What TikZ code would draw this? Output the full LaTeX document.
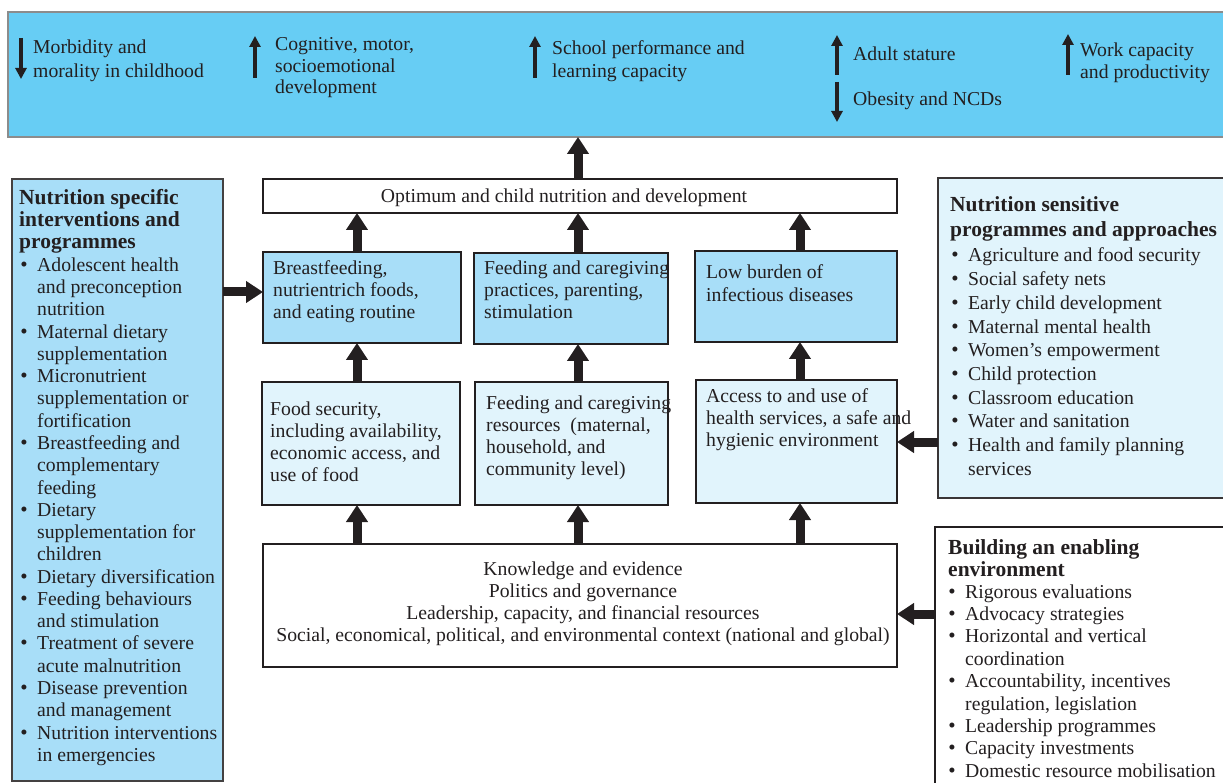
\documentclass[tikz,border=0pt]{standalone}
\usepackage{fontspec}
\setmainfont{Liberation Serif}
\usetikzlibrary{arrows.meta}
\definecolor{banner}{HTML}{67CDF4}
\definecolor{bannerline}{HTML}{8C8C8C}
\definecolor{midblue}{HTML}{A8DEF8}
\definecolor{pale}{HTML}{E1F4FC}
\definecolor{ink}{HTML}{231F20}
\tikzset{
  txt/.style={anchor=base west, inner sep=0pt, font=\fontsize{19.7}{22}\selectfont, text=ink},
  ctxt/.style={txt, anchor=base},
  hd/.style={txt, font=\fontsize{21.5}{22}\selectfont\bfseries},
  bul/.style={anchor=base, inner sep=0pt, font=\fontsize{21}{22}\selectfont, text=ink},
  frame/.style={rectangle, inner sep=0pt, outer sep=0pt, line width=1.4pt},
  whitebox/.style={frame, draw=ink, fill=white},
  bluebox/.style={frame, draw=ink, fill=midblue},
  palebox/.style={frame, draw=ink, fill=pale},
  bigarrow/.style={draw=ink, line width=9pt, -{Triangle[width=21pt,length=17pt]}},
  smallarrow/.style={draw=ink, line width=4pt, -{Triangle[width=11pt,length=11pt]}},
}
\newcounter{tn}
\newcommand\tln[3]{\stepcounter{tn}\node[txt] (t\arabic{tn}) at (#1,#2) {#3};}
\newcommand\ctln[3]{\stepcounter{tn}\node[ctxt] (t\arabic{tn}) at (#1,#2) {#3};}
\newcommand\hdln[3]{\stepcounter{tn}\node[hd] (t\arabic{tn}) at (#1,#2) {#3};}
\newcommand\bln[3]{\stepcounter{tn}\node[bul] (u\arabic{tn}) at ({#1-13},#2) {\textbullet};\node[txt] (t\arabic{tn}) at (#1,#2) {#3};}
\begin{document}
\begin{tikzpicture}[x=1pt,y=-1pt]
\useasboundingbox (0,0) rectangle (1223,783);
% ---------- banner ----------
\node[frame, draw=bannerline, line width=1.8pt, fill=banner, minimum width=1232pt, minimum height=125pt] (Ban) at (624,74.5) {};
\coordinate (a1s) at (21,38);   \coordinate (a1e) at (21,79);
\coordinate (a2s) at (255,78);  \coordinate (a2e) at (255,36);
\coordinate (a3s) at (535,78);  \coordinate (a3e) at (535,36);
\coordinate (a4s) at (837,75);  \coordinate (a4e) at (837,35);
\coordinate (a5s) at (837,82);  \coordinate (a5e) at (837,122);
\coordinate (a6s) at (1068,75); \coordinate (a6e) at (1068,34);
\foreach \i in {1,...,6} {\draw[smallarrow] (a\i s) -- (a\i e);}
\tln{33}{54}{Morbidity and}
\tln{33}{78}{morality in childhood}
\tln{275}{51}{Cognitive, motor,}
\tln{275}{72.5}{socioemotional}
\tln{275}{94}{development}
\tln{552}{55}{School performance and}
\tln{552}{78}{learning capacity}
\tln{853}{61}{Adult stature}
\tln{853}{106}{Obesity and NCDs}
\tln{1080}{57}{Work capacity}
\tln{1080}{79}{and productivity}
% ---------- central boxes ----------
\node[whitebox, minimum width=634pt, minimum height=34pt] (Opt) at (580,196) {};
\node[bluebox, minimum width=198pt, minimum height=91pt] (B1) at (362,297.5) {};
\node[bluebox, minimum width=194pt, minimum height=91pt] (B2) at (571,298.5) {};
\node[bluebox, minimum width=202pt, minimum height=91pt] (B3) at (796,296.5) {};
\node[palebox, minimum width=198pt, minimum height=123pt] (C1) at (361,443.5) {};
\node[palebox, minimum width=193pt, minimum height=123pt] (C2) at (571.5,443.5) {};
\node[palebox, minimum width=201pt, minimum height=123pt] (C3) at (796.5,441.5) {};
\node[whitebox, minimum width=634pt, minimum height=123pt] (D) at (580,605.5) {};
% ---------- side panels ----------
\node[frame, draw=ink!85, fill=midblue, minimum width=211pt, minimum height=602pt] (LP) at (117.5,480) {};
\node[frame, draw=ink!90, fill=pale, minimum width=302pt, minimum height=320pt] (RP1) at (1089,338) {};
\node[frame, draw=ink, fill=white, minimum width=305pt, minimum height=273pt] (RP2) at (1087.5,663.5) {};
% ---------- arrows ----------
\coordinate (col1) at (357,0);
\coordinate (col2) at (578,0);
\coordinate (col3) at (800,0);
\coordinate (ay1) at (0,292);
\coordinate (ay2) at (0,442);
\coordinate (ay3) at (0,614);
\draw[bigarrow] (Opt.north -| col2) -- (Ban.south -| col2);
\draw[bigarrow] (B1.north -| col1) -- (Opt.south -| col1);
\draw[bigarrow] (B2.north -| col2) -- (Opt.south -| col2);
\draw[bigarrow] (B3.north -| col3) -- (Opt.south -| col3);
\draw[bigarrow] (C1.north -| col1) -- (B1.south -| col1);
\draw[bigarrow] (C2.north -| col2) -- (B2.south -| col2);
\draw[bigarrow] (C3.north -| col3) -- (B3.south -| col3);
\draw[bigarrow] (D.north -| col1) -- (C1.south -| col1);
\draw[bigarrow] (D.north -| col2) -- (C2.south -| col2);
\draw[bigarrow] (D.north -| col3) -- (C3.south -| col3);
\draw[bigarrow] (LP.east |- ay1) -- (B1.west |- ay1);
\draw[bigarrow] (RP1.west |- ay2) -- (C3.east |- ay2);
\draw[bigarrow] (RP2.west |- ay3) -- (D.east |- ay3);
% ---------- central texts ----------
\ctln{564}{203}{Optimum and child nutrition and development}
\tln{273}{275}{Breastfeeding,}
\tln{273}{297}{nutrientrich foods,}
\tln{273}{319}{and eating routine}
\tln{484}{275}{Feeding and caregiving}
\tln{484}{297}{practices, parenting,}
\tln{484}{319}{stimulation}
\tln{706}{279}{Low burden of}
\tln{706}{302}{infectious diseases}
\tln{270}{415}{Food security,}
\tln{270}{437}{including availability,}
\tln{270}{459}{economic access, and}
\tln{270}{481}{use of food}
\tln{486}{409}{Feeding and caregiving}
\tln{486}{431}{resources\ \ (maternal,}
\tln{486}{453}{household, and}
\tln{486}{475}{community level)}
\tln{706}{402}{Access to and use of}
\tln{706}{424}{health services, a safe and}
\tln{706}{446}{hygienic environment}
\ctln{583}{575}{Knowledge and evidence}
\ctln{583}{597}{Politics and governance}
\ctln{583}{619}{Leadership, capacity, and financial resources}
\ctln{583}{641}{Social, economical, political, and environmental context (national and global)}
% ---------- left panel ----------
\hdln{19}{205}{Nutrition specific}
\hdln{19}{227}{interventions and}
\hdln{19}{249}{programmes}
\bln{37}{271.3}{Adolescent health}
\tln{37}{293.5}{and preconception}
\tln{37}{315.8}{nutrition}
\bln{37}{338.1}{Maternal dietary}
\tln{37}{360.4}{supplementation}
\bln{37}{382.6}{Micronutrient}
\tln{37}{404.9}{supplementation or}
\tln{37}{427.2}{fortification}
\bln{37}{449.5}{Breastfeeding and}
\tln{37}{471.7}{complementary}
\tln{37}{494.0}{feeding}
\bln{37}{516.3}{Dietary}
\tln{37}{538.5}{supplementation for}
\tln{37}{560.8}{children}
\bln{37}{583.1}{Dietary diversification}
\bln{37}{605.4}{Feeding behaviours}
\tln{37}{627.6}{and stimulation}
\bln{37}{649.9}{Treatment of severe}
\tln{37}{672.2}{acute malnutrition}
\bln{37}{694.4}{Disease prevention}
\tln{37}{716.7}{and management}
\bln{37}{739.0}{Nutrition interventions}
\tln{37}{761.2}{in emergencies}
% ---------- right panel 1 ----------
\hdln{950}{212}{Nutrition sensitive}
\hdln{950}{237}{programmes and approaches}
\bln{968}{262}{Agriculture and food security}
\bln{968}{285.7}{Social safety nets}
\bln{968}{309.4}{Early child development}
\bln{968}{333.1}{Maternal mental health}
\bln{968}{356.8}{Women’s empowerment}
\bln{968}{380.5}{Child protection}
\bln{968}{404.2}{Classroom education}
\bln{968}{427.9}{Water and sanitation}
\bln{968}{451.6}{Health and family planning}
\tln{968}{475.3}{services}
% ---------- right panel 2 ----------
\hdln{948}{554}{Building an enabling}
\hdln{948}{576}{environment}
\bln{965}{598}{Rigorous evaluations}
\bln{965}{620.4}{Advocacy strategies}
\bln{965}{642.8}{Horizontal and vertical}
\tln{965}{665.2}{coordination}
\bln{965}{687.6}{Accountability, incentives}
\tln{965}{710}{regulation, legislation}
\bln{965}{732.4}{Leadership programmes}
\bln{965}{754.8}{Capacity investments}
\bln{965}{777.2}{Domestic resource mobilisation}
\end{tikzpicture}
\end{document}
